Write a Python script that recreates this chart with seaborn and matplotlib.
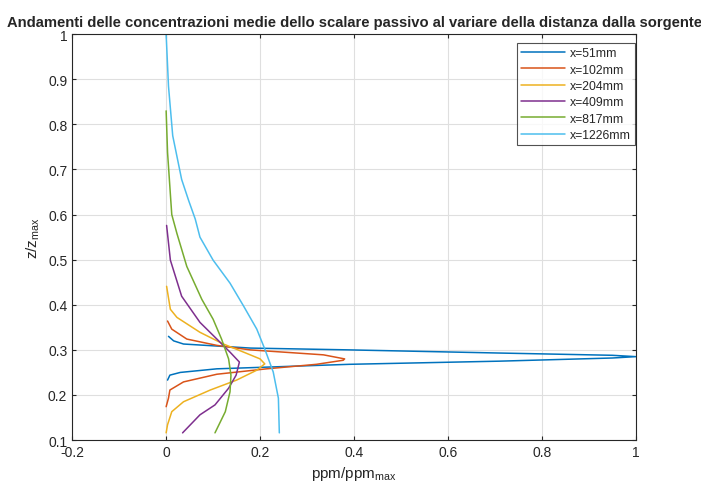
import matplotlib
matplotlib.use("Agg")
import matplotlib.pyplot as plt
import seaborn as sns
import pandas as pd

labels = ["x=51mm", "x=102mm", "x=204mm", "x=409mm", "x=817mm", "x=1226mm"]
colors = ["#0072BD", "#D95319", "#EDB120", "#7E2F8E", "#77AC30", "#4DBEEE"]

c51 = [0.003, 0.008, 0.03, 0.108, 0.39, 0.71, 0.95, 1.0, 0.95, 0.71, 0.39, 0.18, 0.037, 0.016, 0.005]
z51 = [0.233, 0.244, 0.25, 0.258, 0.268, 0.275, 0.282, 0.285, 0.288, 0.293, 0.30, 0.304, 0.313, 0.32, 0.33]

c102 = [0.0, 0.005, 0.008, 0.037, 0.108, 0.214, 0.32, 0.377, 0.38, 0.335, 0.25, 0.179, 0.108, 0.044, 0.012, 0.003]
z102 = [0.174, 0.193, 0.211, 0.229, 0.246, 0.258, 0.268, 0.277, 0.28, 0.289, 0.295, 0.30, 0.31, 0.324, 0.346, 0.364]

c204 = [0.0, 0.003, 0.012, 0.037, 0.094, 0.15, 0.193, 0.21, 0.2, 0.165, 0.122, 0.072, 0.023, 0.009, 0.001]
z204 = [0.116, 0.134, 0.163, 0.185, 0.211, 0.233, 0.255, 0.269, 0.28, 0.295, 0.313, 0.339, 0.372, 0.39, 0.441]

c409 = [0.035, 0.072, 0.104, 0.133, 0.149, 0.156, 0.136, 0.108, 0.072, 0.033, 0.009, 0.001]
z409 = [0.116, 0.156, 0.178, 0.215, 0.244, 0.273, 0.295, 0.324, 0.361, 0.419, 0.499, 0.576]

c817 = [0.104, 0.126, 0.136, 0.138, 0.133, 0.118, 0.10, 0.076, 0.044, 0.023, 0.012, 0.01, 0.003, 0.0]
z817 = [0.116, 0.163, 0.207, 0.244, 0.28, 0.324, 0.368, 0.412, 0.485, 0.558, 0.600, 0.63, 0.738, 0.83]

c1226 = [0.241, 0.239, 0.228, 0.21, 0.193, 0.165, 0.136, 0.10, 0.072, 0.062, 0.048, 0.033, 0.014, 0.005, 0.0]
z1226 = [0.116, 0.193, 0.251, 0.302, 0.346, 0.397, 0.448, 0.499, 0.55, 0.59, 0.631, 0.678, 0.775, 0.885, 1.0]

series = [(c51, z51), (c102, z102), (c204, z204), (c409, z409), (c817, z817), (c1226, z1226)]

rows = []
for lab, (c, z) in zip(labels, series):
    for a, b in zip(c, z):
        rows.append({"serie": lab, "c": a, "z": b})
df = pd.DataFrame(rows)

sns.set_style("white")
plt.rcParams["font.family"] = ["Liberation Sans", "DejaVu Sans"]
plt.rcParams["mathtext.fontset"] = "custom"
plt.rcParams["mathtext.rm"] = "Liberation Sans"

fig = plt.figure(figsize=(7.01, 4.89), dpi=100)
ax = fig.add_axes([0.103, 0.098, 0.804, 0.830])

sns.lineplot(data=df, x="c", y="z", hue="serie", hue_order=labels, palette=colors,
             sort=False, estimator=None, units="serie", linewidth=1.1, ax=ax, legend=True)

ax.set_xlim(-0.2, 1)
ax.set_ylim(0.1, 1)
ax.set_xticks([-0.2, 0, 0.2, 0.4, 0.6, 0.8, 1])
ax.set_xticklabels(["-0.2", "0", "0.2", "0.4", "0.6", "0.8", "1"])
ax.set_yticks([0.1, 0.2, 0.3, 0.4, 0.5, 0.6, 0.7, 0.8, 0.9, 1])
ax.set_yticklabels(["0.1", "0.2", "0.3", "0.4", "0.5", "0.6", "0.7", "0.8", "0.9", "1"])
ax.grid(True, color="#dfdfdf", linewidth=0.8)
ax.set_axisbelow(True)
for s in ax.spines.values():
    s.set_visible(True)
    s.set_color("#262626")
    s.set_linewidth(0.8)
ax.tick_params(direction="in", length=3, width=0.8, color="#262626", labelsize=10,
               labelcolor="#262626", top=True, right=True, bottom=True, left=True)
ax.set_xlabel(r"ppm/ppm$_{\mathregular{max}}$", fontsize=11, color="#262626")
ax.set_ylabel(r"z/z$_{\mathregular{max}}$", fontsize=11, color="#262626")
ax.set_title("Andamenti delle concentrazioni medie dello scalare passivo al variare della distanza dalla sorgente",
             fontsize=10.6, fontweight="bold", pad=6)

leg = ax.legend(loc="upper right", bbox_to_anchor=(0.998, 0.978), fontsize=8.8, frameon=True,
                fancybox=False, edgecolor="#262626", handlelength=3.6, handletextpad=0.35,
                borderpad=0.35, labelspacing=0.35, borderaxespad=0.0)
leg.get_frame().set_linewidth(0.8)

fig.savefig("out.png", dpi=100)
